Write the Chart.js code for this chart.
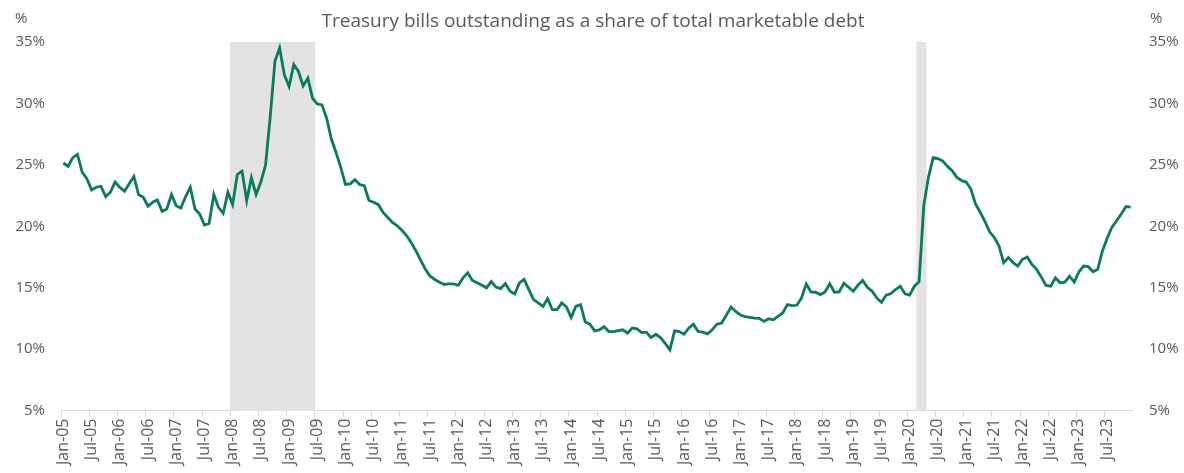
<!DOCTYPE html>
<html>
<head>
<meta charset="utf-8">
<script src="https://cdn.jsdelivr.net/npm/chart.js@4.4.1/dist/chart.umd.min.js"></script>
<style>
  html, body { margin: 0; padding: 0; background: #fff; }
  #wrap { width: 1184px; height: 473px; position: relative; }
</style>
</head>
<body>
<div id="wrap"><canvas id="billsChart"></canvas></div>
<script>
// monthly, Jan-05 .. Dec-23 (% of total marketable debt)
const billShare = [
  25.15, 24.88, 25.59, 25.86, 24.41, 23.87, 22.96, 23.18, 23.26, 22.42, 22.77, 23.60, // 2005
  23.18, 22.85, 23.46, 24.06, 22.58, 22.36, 21.63, 21.96, 22.15, 21.22, 21.41, 22.58, // 2006
  21.68, 21.49, 22.42, 23.18, 21.41, 21.00, 20.10, 20.23, 22.58, 21.54, 21.05, 22.77, // 2007
  21.76, 24.22, 24.49, 22.09, 23.95, 22.58, 23.60, 24.96, 28.92, 33.43, 34.52, 32.34, // 2008
  31.38, 33.16, 32.60, 31.43, 32.06, 30.42, 29.96, 29.88, 28.80, 27.10, 26.00, 24.80, // 2009
  23.40, 23.45, 23.80, 23.40, 23.30, 22.10, 21.95, 21.76, 21.13, 20.72, 20.31, 20.04, // 2010
  19.68, 19.25, 18.67, 17.99, 17.22, 16.50, 15.94, 15.67, 15.45, 15.26, 15.31, 15.31, // 2011
  15.20, 15.80, 16.21, 15.59, 15.40, 15.20, 14.99, 15.50, 15.05, 14.93, 15.34, 14.71, // 2012
  14.49, 15.39, 15.67, 14.85, 14.03, 13.76, 13.48, 14.11, 13.21, 13.21, 13.76, 13.43, // 2013
  12.58, 13.48, 13.62, 12.20, 12.03, 11.49, 11.57, 11.84, 11.43, 11.43, 11.51, 11.57, // 2014
  11.30, 11.71, 11.65, 11.35, 11.38, 10.94, 11.21, 10.94, 10.48,  9.93, 11.49, 11.43, // 2015
  11.21, 11.71, 12.03, 11.43, 11.38, 11.24, 11.57, 12.03, 12.12, 12.75, 13.43, 13.07, // 2016
  12.78, 12.65, 12.58, 12.53, 12.50, 12.26, 12.47, 12.39, 12.67, 12.94, 13.62, 13.54, // 2017
  13.57, 14.17, 15.32, 14.66, 14.63, 14.44, 14.66, 15.32, 14.63, 14.66, 15.37, 15.04, // 2018
  14.71, 15.21, 15.59, 15.04, 14.71, 14.17, 13.81, 14.39, 14.52, 14.85, 15.12, 14.50, // 2019
  14.39, 15.12, 15.48, 21.68, 24.00, 25.59, 25.51, 25.32, 24.88, 24.55, 24.00, 23.73, // 2020
  23.60, 23.05, 21.82, 21.14, 20.40, 19.55, 19.09, 18.40, 17.04, 17.45, 17.04, 16.76, // 2021
  17.31, 17.50, 16.90, 16.49, 15.86, 15.18, 15.12, 15.81, 15.40, 15.45, 15.94, 15.45, // 2022
  16.30, 16.76, 16.71, 16.30, 16.49, 17.99, 19.03, 19.90, 20.45, 21.00, 21.60, 21.55  // 2023
];

// recession shading: first and last month
const recessions = [['Jan-08', 'Jun-09'], ['Mar-20', 'Apr-20']];

const monthNames = ['Jan', 'Feb', 'Mar', 'Apr', 'May', 'Jun', 'Jul', 'Aug', 'Sep', 'Oct', 'Nov', 'Dec'];
const firstYear = 2005;
const lastYear = 2023;
const yTicks = { min: 5, max: 35, step: 5 };

const labels = [];
for (let y = firstYear; y <= lastYear; y++) {
  for (let m = 0; m < 12; m++) {
    labels.push(monthNames[m] + '-' + String(y).slice(2));
  }
}

// 1 inside a recession, null outside
const shade = labels.map(() => null);
recessions.forEach(([from, to]) => {
  for (let i = labels.indexOf(from); i <= labels.indexOf(to); i++) shade[i] = 1;
});

const textColor = '#595959';
const fontFamily = '"Open Sans", "Noto Sans", sans-serif';

// title and the two "%" unit labels
const headerText = {
  id: 'headerText',
  afterDraw(chart) {
    const ctx = chart.ctx;
    ctx.save();
    ctx.fillStyle = textColor;
    ctx.textBaseline = 'middle';
    ctx.font = '19px ' + fontFamily;
    ctx.textAlign = 'center';
    ctx.fillText('Treasury bills outstanding as a share of total marketable debt', 593, 22);
    ctx.font = '15px ' + fontFamily;
    ctx.textAlign = 'left';
    ctx.fillText('%', 15, 19);
    ctx.fillText('%', chart.chartArea.right + 17, 19);
    ctx.restore();
  }
};

const ctx = document.getElementById('billsChart').getContext('2d');
new Chart(ctx, {
  type: 'line',
  data: {
    labels: labels,
    datasets: [
      {
        label: 'Bills share',
        data: billShare,
        borderColor: '#0a7a5f',
        borderWidth: 2.8,
        pointRadius: 0,
        tension: 0,
        yAxisID: 'y',
        order: 1
      },
      {
        type: 'bar',
        label: 'Recession',
        data: shade,
        backgroundColor: '#e3e3e3',
        borderWidth: 0,
        barPercentage: 1,
        categoryPercentage: 1,
        yAxisID: 'yShade',
        order: 2
      }
    ]
  },
  options: {
    responsive: true,
    maintainAspectRatio: false,
    animation: false,
    layout: { padding: { top: 42, left: 15, right: 4, bottom: 6 } },
    plugins: {
      legend: { display: false },
      title: { display: false },
      tooltip: { enabled: false }
    },
    scales: {
      x: {
        offset: true,
        grid: {
          offset: true,
          drawOnChartArea: false,
          tickLength: 6,
          color: (c) => (c.index % 6 === 0 ? '#d9d9d9' : 'rgba(0,0,0,0)')
        },
        border: { display: true, color: '#d9d9d9' },
        ticks: {
          autoSkip: false,
          minRotation: 90,
          maxRotation: 90,
          padding: 2,
          color: textColor,
          font: { family: fontFamily, size: 16 },
          callback: function (val, idx) {
            return idx % 6 === 0 ? this.getLabelForValue(val) : '';
          }
        }
      },
      y: {
        position: 'left',
        min: yTicks.min,
        max: yTicks.max,
        afterFit: (s) => { s.width = 46; },
        grid: { display: false, drawTicks: false },
        border: { display: false },
        ticks: {
          stepSize: yTicks.step,
          padding: 16,
          color: textColor,
          font: { family: fontFamily, size: 15 },
          callback: (v) => v + '%'
        }
      },
      y2: {
        position: 'right',
        min: yTicks.min,
        max: yTicks.max,
        afterFit: (s) => { s.width = 47; },
        grid: { display: false, drawTicks: false },
        border: { display: false },
        ticks: {
          stepSize: yTicks.step,
          padding: 16,
          color: textColor,
          font: { family: fontFamily, size: 15 },
          callback: (v) => v + '%'
        }
      },
      yShade: {
        display: false,
        min: 0,
        max: 1
      }
    }
  },
  plugins: [headerText]
});
</script>
</body>
</html>
